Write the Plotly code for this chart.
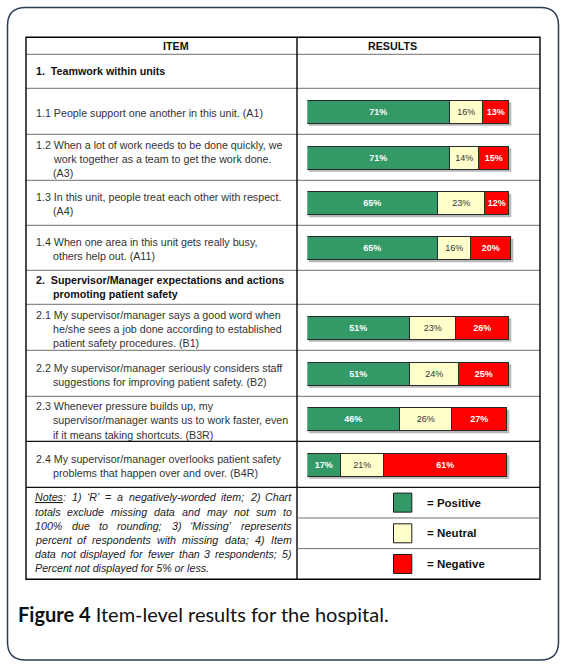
import plotly.graph_objects as go

# item-level results, % positive / neutral / negative
items = [
    ["1.1 People support one another in this unit. (A1)"],
    ["1.2 When a lot of work needs to be done quickly, we",
     "work together as a team to get the work done.", "(A3)"],
    ["1.3 In this unit, people treat each other with respect.", "(A4)"],
    ["1.4 When one area in this unit gets really busy,", "others help out. (A11)"],
    ["2.1 My supervisor/manager says a good word when",
     "he/she sees a job done according to established",
     "patient safety procedures. (B1)"],
    ["2.2 My supervisor/manager seriously considers staff",
     "suggestions for improving patient safety. (B2)"],
    ["2.3 Whenever pressure builds up, my",
     "supervisor/manager wants us to work faster, even",
     "if it means taking shortcuts. (B3R)"],
    ["2.4 My supervisor/manager overlooks patient safety",
     "problems that happen over and over. (B4R)"],
]
positive = [71, 71, 65, 65, 51, 51, 46, 17]
neutral = [16, 14, 23, 16, 23, 24, 26, 21]
negative = [13, 15, 12, 20, 26, 25, 27, 61]

sections = [
    ["1.  Teamwork within units"],
    ["2.  Supervisor/Manager expectations and actions", "promoting patient safety"],
]
# which rows come in which order: header, section, items..., notes
row_kinds = ["head", "sec", "item", "item", "item", "item",
             "sec", "item", "item", "item", "item", "notes"]
row_h = [17, 34, 46, 46, 45, 45, 34, 46, 46, 45, 46, 92]

notes = [
    "<u>Notes</u>: 1) \u2018R\u2019 = a negatively-worded item; 2) Chart",
    "totals exclude missing data and may not sum to",
    "100% due to rounding; 3) \u2018Missing\u2019 represents",
    "percent of respondents with missing data; 4) Item",
    "data not displayed for fewer than 3 respondents; 5)",
    "Percent not displayed for 5% or less.",
]
legend_names = ["= Positive", "= Neutral", "= Negative"]

GREEN, CREAM, RED = "#339966", "#FFFFCC", "#FF0000"
W, H = 566, 667
FONT = "Liberation Sans, Arial, sans-serif"
FS = 10.7

# table geometry in pixels
T_LEFT, T_RIGHT, T_TOP, COL = 26, 540, 37.3, 297
BAR0, PX_PER = 307.3, 2.02

bounds = [T_TOP]
for h in row_h:
    bounds.append(bounds[-1] + h)
centers = [(a + b) / 2 for a, b in zip(bounds[:-1], bounds[1:])]
item_rows = [i for i, k in enumerate(row_kinds) if k == "item"]
sec_rows = [i for i, k in enumerate(row_kinds) if k == "sec"]
bar_y = [centers[i] + 1 for i in item_rows]


def px(x):
    return x / W


fig = go.Figure()
for vals, col, tcol, wt, name in [(positive, GREEN, "white", "bold", "Positive"),
                                  (neutral, CREAM, "#333333", "normal", "Neutral"),
                                  (negative, RED, "white", "bold", "Negative")]:
    fig.add_trace(go.Bar(
        x=vals, y=bar_y, orientation="h", width=23, name=name,
        marker=dict(color=col, line=dict(color="#2a2a2a", width=1)),
        text=[f"{v}%" for v in vals], textposition="inside",
        insidetextanchor="middle", textangle=0,
        insidetextfont=dict(family=FONT, size=9, color=tcol, weight=wt),
        hoverinfo="skip", showlegend=False,
    ))

shapes = []
annos = []

# outer rounded frame
L, R, T, B, r = 7.5, 558.5, 7.5, 660, 18
path = (f"M{px(L + r)},{T} L{px(R - r)},{T} Q{px(R)},{T} {px(R)},{T + r} "
        f"L{px(R)},{B - r} Q{px(R)},{B} {px(R - r)},{B} L{px(L + r)},{B} "
        f"Q{px(L)},{B} {px(L)},{B - r} L{px(L)},{T + r} Q{px(L)},{T} {px(L + r)},{T} Z")
shapes.append(dict(type="path", path=path, xref="paper", yref="y",
                   line=dict(color="#2b3d57", width=1.5)))

# soft shadow under each bar
for yb, p, n, g in zip(bar_y, positive, neutral, negative):
    shapes.append(dict(type="rect", xref="paper", yref="y", layer="below",
                       x0=px(BAR0 + 1.5), x1=px(BAR0 + (p + n + g) * PX_PER + 2),
                       y0=yb - 10, y1=yb + 13.5,
                       fillcolor="#b8b8b8", line=dict(width=0)))

# row lines
for i, yb in enumerate(bounds[1:-1], start=1):
    dark = row_kinds[i] == "notes" or (i == len(row_kinds) - 2)
    shapes.append(dict(type="line", xref="paper", yref="y",
                       x0=px(T_LEFT), x1=px(T_RIGHT), y0=yb, y1=yb,
                       line=dict(color="#111111" if dark else "#707070",
                                 width=1.2 if dark else 1)))
# table border + column divider
shapes.append(dict(type="rect", xref="paper", yref="y",
                   x0=px(T_LEFT), x1=px(T_RIGHT), y0=bounds[0], y1=bounds[-1],
                   line=dict(color="#000000", width=1.4)))
shapes.append(dict(type="line", xref="paper", yref="y",
                   x0=px(COL), x1=px(COL), y0=bounds[0], y1=bounds[-1],
                   line=dict(color="#000000", width=1.4)))

# header
annos.append(dict(x=px((T_LEFT + COL) / 2), y=centers[0] + 0.5, text="<b>ITEM</b>"))
annos.append(dict(x=px((COL + T_RIGHT) / 2), y=centers[0] + 0.5, text="<b>RESULTS</b>"))


def add_lines(lines, yc, bold=False, color="#333333", gap=14.3):
    n = len(lines)
    for j, ln in enumerate(lines):
        annos.append(dict(
            x=px(34 if j == 0 else 50.5), y=yc + (j - (n - 1) / 2) * gap,
            text=f"<b>{ln}</b>" if bold else ln, xanchor="left",
            font=dict(family=FONT, size=FS, color=color)))


for s, ri in zip(sections, sec_rows):
    add_lines(s, centers[ri], bold=True, color="#111111")
for it, ri in zip(items, item_rows):
    add_lines(it, centers[ri] + 1.5)

# notes, justified by hand with Arial advance widths
AW = {c: 556 for c in "abdeghnopqu0123456789"}
AW.update({"c": 500, "k": 500, "s": 500, "v": 500, "x": 500, "y": 500, "z": 500,
           "f": 278, "t": 278, "i": 222, "j": 222, "l": 222, "m": 833, "r": 333,
           "w": 722, " ": 278, ".": 278, ",": 278, ";": 278, ":": 278, ")": 333,
           "(": 333, "=": 584, "%": 889, "-": 333, "\u2018": 222, "\u2019": 222,
           "N": 722, "R": 722, "C": 722, "M": 833, "I": 278, "P": 667})


def tw(s):
    s = s.replace("<u>", "").replace("</u>", "")
    return sum(AW.get(c, 556) for c in s) / 1000 * FS


N_LEFT, N_RIGHT = 34, 290.5
ny0 = bounds[-2] + 10
for j, ln in enumerate(notes):
    y = ny0 + j * 14.2
    words = ln.split(" ")
    if j == len(notes) - 1:
        xs = [N_LEFT]
        words = [ln]
    else:
        ws = [tw(w) for w in words]
        gap = (N_RIGHT - N_LEFT - sum(ws)) / (len(words) - 1)
        xs, x = [], N_LEFT
        for w_ in ws:
            xs.append(x)
            x += w_ + gap
    for x, w_ in zip(xs, words):
        annos.append(dict(x=px(x - 1), y=y, text=f"<i>{w_}</i>", xanchor="left",
                          font=dict(family=FONT, size=FS, color="#222222")))

# legend in the notes row
lb = [bounds[-2] + k * (bounds[-1] - bounds[-2]) / 3 for k in range(4)]
for k, (name, col) in enumerate(zip(legend_names, [GREEN, CREAM, RED])):
    yc = (lb[k] + lb[k + 1]) / 2
    if k > 0:
        shapes.append(dict(type="line", xref="paper", yref="y",
                           x0=px(COL), x1=px(T_RIGHT), y0=lb[k], y1=lb[k],
                           line=dict(color="#707070", width=1)))
    shapes.append(dict(type="rect", xref="paper", yref="y",
                       x0=px(393.5), x1=px(411.8), y0=yc - 9.5, y1=yc + 9.5,
                       fillcolor=col, line=dict(color="#1a1a1a", width=1)))
    annos.append(dict(x=px(425), y=yc, text=f"<b>{name}</b>", xanchor="left",
                      font=dict(family=FONT, size=11.5, color="#111111")))

# caption
annos.append(dict(x=px(16), y=614, xanchor="left",
                  text="<b>Figure 4</b> Item-level results for the hospital.",
                  font=dict(family="Lato, Open Sans, sans-serif", size=20, color="#111111")))

for a in annos:
    a.setdefault("xref", "paper")
    a.setdefault("yref", "y")
    a.setdefault("showarrow", False)
    a.setdefault("font", dict(family=FONT, size=FS, color="#111111"))

fig.update_layout(
    width=W, height=H, margin=dict(l=0, r=0, t=0, b=0),
    paper_bgcolor="white", plot_bgcolor="rgba(0,0,0,0)",
    barmode="stack", bargap=0, shapes=shapes, annotations=annos,
    xaxis=dict(range=[0, 120], domain=[px(BAR0), px(BAR0 + PX_PER * 120)],
               visible=False, fixedrange=True),
    yaxis=dict(range=[H, 0], domain=[0, 1], visible=False, fixedrange=True),
)

fig.write_html("out.html", config={"displayModeBar": False},
               post_script="document.body.style.margin='0';")
